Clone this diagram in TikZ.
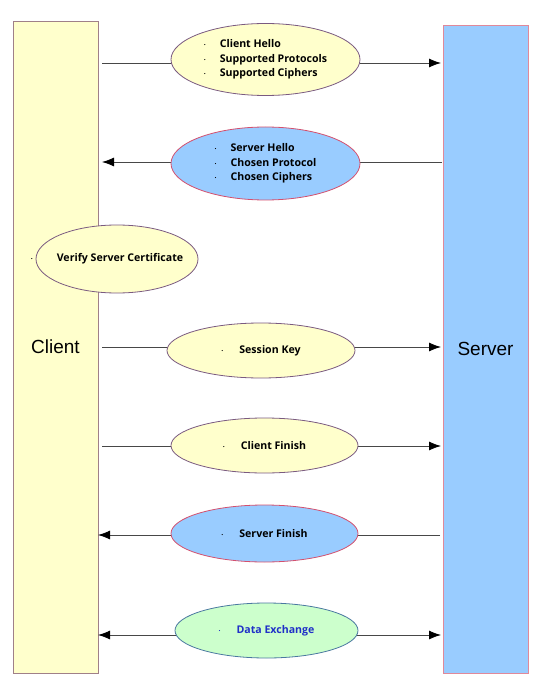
\documentclass[tikz,border=0pt]{standalone}
\usepackage{fontspec}
\setmainfont{Open Sans}
\newfontfamily\partyfont{Liberation Sans}
\usetikzlibrary{arrows.meta,shapes.geometric}
\definecolor{clientfill}{HTML}{FFFFCC}
\definecolor{clientedge}{HTML}{A08088}
\definecolor{serverfill}{HTML}{99CCFF}
\definecolor{serveredge}{HTML}{E0899A}
\definecolor{yellowedge}{HTML}{7A5A80}
\definecolor{blueedge}{HTML}{D4506E}
\definecolor{datafill}{HTML}{CCFFCC}
\definecolor{dataedge}{HTML}{4A78A0}
\definecolor{datatext}{HTML}{2030C8}
\newcommand{\bul}[1][16pt]{\makebox[#1][l]{\scriptsize\textperiodcentered}}

\begin{document}
\begin{tikzpicture}[x=1pt,y=-1pt,
  party/.style={draw,line width=0.8pt,minimum width=85pt,font=\partyfont\fontsize{19}{22}\selectfont},
  msg/.style={ellipse,draw,line width=0.8pt,inner sep=0pt,align=left,font=\fontsize{10.6}{14.5}\selectfont\bfseries},
  yellowmsg/.style={msg,fill=clientfill,draw=yellowedge},
  bluemsg/.style={msg,fill=serverfill,draw=blueedge},
  line/.style={draw=black!72,line width=0.8pt},
  tip/.style={line,-{Latex[length=12pt,width=9pt,color=black]}},
  twotip/.style={line,{Latex[length=12pt,width=9pt,color=black]}-{Latex[length=12pt,width=9pt,color=black]}}]
\useasboundingbox(0,0)rectangle(539,692);
% client and server
\node[party,fill=clientfill,draw=clientedge,minimum height=652pt](client)at(55.5,347){Client};
\node[party,fill=serverfill,draw=serveredge,minimum height=648pt](server)at(485.5,349){Server};
% end points of the messages
\coordinate(c1)at(102,63);\coordinate(s1)at(441,63);
\coordinate(c2)at(102,162);\coordinate(s2)at(442,162);
\coordinate(c4)at(102,347);\coordinate(s4)at(441,347);
\coordinate(c5)at(102,446);\coordinate(s5)at(441,446);
\coordinate(c6)at(98,535);\coordinate(s6)at(440,535);
\coordinate(c7)at(98,635);\coordinate(s7)at(441,635);
\draw[tip](c1)--(s1);
\draw[tip](s2)--(c2);
\draw[tip](c4)--(s4);
\draw[tip](c5)--(s5);
\draw[tip](s6)--(c6);
\draw[twotip](c7)--(s7);
% messages
\node[yellowmsg,minimum width=189pt,minimum height=72pt](hello)at(265.5,59.5)
{\bul Client Hello\\\bul Supported Protocols\\\bul Supported Ciphers};
\node[bluemsg,minimum width=189pt,minimum height=73pt](shello)at(265.5,163.5)
{\bul Server Hello\\\bul Chosen Protocol\\\bul Chosen Ciphers};
\node[yellowmsg,inner xsep=-10pt,minimum width=162pt,minimum height=68pt](verify)at(117,259)
{\makebox[0pt][r]{\bul[20pt]}\hspace{6pt}Verify Server Certificate};
\node[yellowmsg,minimum width=188pt,minimum height=55pt](key)at(261,350.5)
{\bul[18pt]Session Key};
\node[yellowmsg,minimum width=187pt,minimum height=55pt](cfinish)at(264.5,445.5)
{\bul[18pt]Client Finish};
\node[bluemsg,minimum width=187pt,minimum height=57pt](sfinish)at(264.5,533.5)
{\bul[18pt]Server Finish};
\node[msg,fill=datafill,draw=dataedge,text=datatext,minimum width=183pt,minimum height=55pt](data)at(266.5,630.5)
{\bul[18pt]Data Exchange};
\end{tikzpicture}
\end{document}
